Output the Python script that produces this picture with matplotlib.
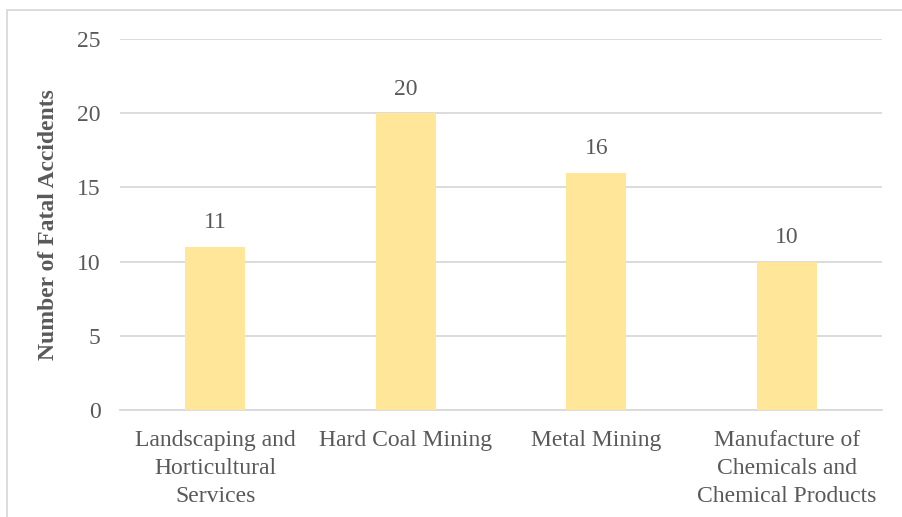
import matplotlib
matplotlib.use("Agg")
import matplotlib.pyplot as plt
from matplotlib.patches import Rectangle

# dados do gráfico
categorias = ["Landscaping and\nHorticultural\nServices", "Hard Coal Mining",
              "Metal Mining", "Manufacture of\nChemicals and\nChemical Products"]
acidentes = [11, 20, 16, 10]
yticks = [0, 5, 10, 15, 20, 25]

plt.rcParams['font.family'] = ['Liberation Serif', 'DejaVu Serif']
cor_texto = '#595959'
tam = 17

fig = plt.figure(figsize=(9.03, 5.17), dpi=100)
ax = fig.add_axes([120/903, 1 - 410/517, 762/903, 371/517])

x = range(len(categorias))
ax.bar(x, acidentes, width=0.315, color='#FFE699', zorder=3)
for xi, v in zip(x, acidentes):
    ax.text(xi, v + 0.9, str(v), ha='center', va='bottom', fontsize=tam, color=cor_texto)

ax.set_xlim(-0.5, len(categorias) - 0.5)
ax.set_ylim(0, 25)
ax.set_yticks(yticks)
ax.set_xticks(list(x))
ax.set_xticklabels(categorias, fontsize=tam, color=cor_texto, linespacing=1.42)
ax.tick_params(axis='y', labelsize=tam, labelcolor=cor_texto, length=0, pad=14)
ax.tick_params(axis='x', length=0, pad=14.5)
ax.grid(axis='y', color='#d9d9d9', linewidth=1.3, zorder=0)
for lado in ['top', 'right', 'left']:
    ax.spines[lado].set_visible(False)
ax.spines['bottom'].set_color('#d9d9d9')
ax.spines['bottom'].set_linewidth(1.3)
ax.set_ylabel('Number of Fatal Accidents', fontsize=tam, fontweight='bold', color=cor_texto, labelpad=13)

# borda da área do gráfico
fig.patches.append(Rectangle((7/903, -0.1), 1.1, 1 - 9.5/517 + 0.1, transform=fig.transFigure,
                             fill=False, edgecolor='#d9d9d9', linewidth=1.3))

fig.savefig('out.png', dpi=100)
